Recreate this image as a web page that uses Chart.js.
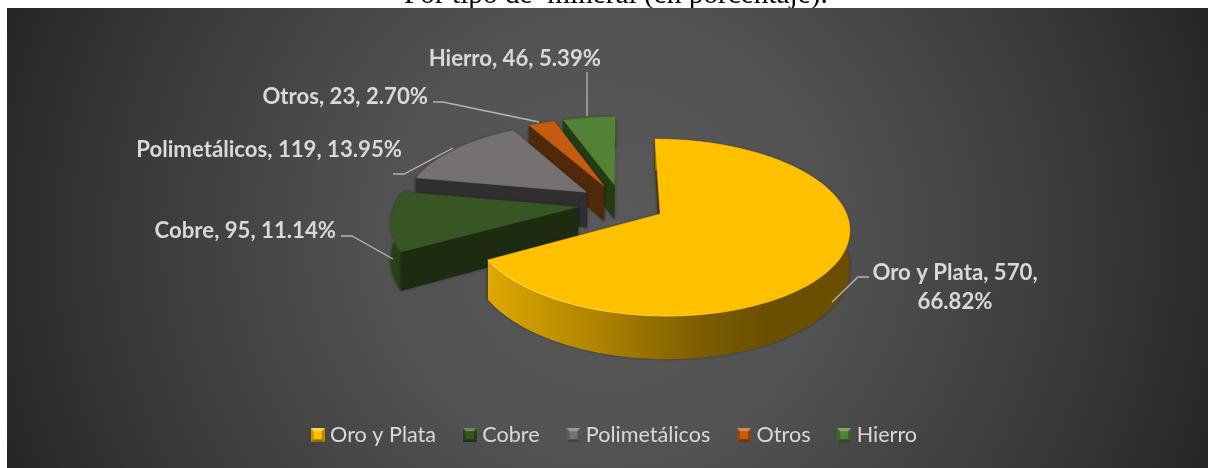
<!DOCTYPE html>
<html><head><meta charset="utf-8">
<style>html,body{margin:0;padding:0;background:#fff;overflow:hidden}canvas{display:block}</style>
<script src="https://cdn.jsdelivr.net/npm/chart.js@4"></script>
</head><body>
<canvas id="c" width="1208" height="468"></canvas>
<script>
const categories = ["Oro y Plata", "Cobre", "Polimetálicos", "Otros", "Hierro"];
const values = [570, 95, 119, 23, 46];
const percents = ["66.82%", "11.14%", "13.95%", "2.70%", "5.39%"];
const topColors = ["#FFC000", "#375623", "#767171", "#C55A11", "#548235"];
const faceColors = ["#4a3800", "#1d2b11", "#312e30", "#50290a", "#233a12"];
const wallColors = ["#8c6a00", "#2a4019", "#3a3738", "#5a300c", "#2b4716"];
const titleText = "Por tipo de  mineral (en porcentaje).";

const PANEL = {x:7, y:8, w:1201, h:460};
const VIEW = {perspective:0.15, squash:0.455, depth:36, shiftX:5};
const LABELS = [
  {lines:[categories[0]+", "+values[0]+",", percents[0]], align:"center", x:955, y:[273,302], leader:[[832,302],[858,277],[869,277]]},
  {lines:[categories[1]+", "+values[1]+", "+percents[1]], align:"right", x:336, y:[231], leader:[[341,236],[352,236],[393,259]]},
  {lines:[categories[2]+", "+values[2]+", "+percents[2]], align:"right", x:402, y:[150], leader:[[393,174],[404,174],[453,148]]},
  {lines:[categories[3]+", "+values[3]+", "+percents[3]], align:"right", x:428, y:[97], leader:[[433,102],[443,102],[539,122]]},
  {lines:[categories[4]+", "+values[4]+", "+percents[4]], align:"right", x:601, y:[59], leader:[[587,72],[587,116]]}
];

function polygon(ctx, pts){
  ctx.beginPath();
  pts.forEach((p,i)=> i ? ctx.lineTo(p[0],p[1]) : ctx.moveTo(p[0],p[1]));
  ctx.closePath();
}

class Pie3DController extends Chart.PieController {
  static id = "pie3d";
  draw(){
    const ctx = this.chart.ctx;
    const arcs = this._cachedMeta.data.map((arc,i)=>({arc,i}));
    const mid = a => (a.arc.startAngle + a.arc.endAngle)/2;
    arcs.sort((a,b)=> Math.sin(mid(a)) - Math.sin(mid(b)));
    arcs.forEach(a=> this.drawSlice(ctx, a.arc, a.i));
  }
  drawSlice(ctx, arc, i){
    const R = arc.outerRadius, cx = arc.x + VIEW.shiftX, cy = arc.y;
    const m = (arc.startAngle + arc.endAngle)/2;
    const off = arc.options.offset / R;
    const ou = off*Math.cos(m), ov = off*Math.sin(m);
    const proj = (u,v,z)=>{
      const s = 1/(1 - VIEW.perspective*v);
      return [cx + R*u*s, cy + R*VIEW.squash*v*s + VIEW.depth*z*s];
    };
    const at = (a,z)=> proj(ou+Math.cos(a), ov+Math.sin(a), z);
    const apex = z => proj(ou, ov, z);
    const n = Math.max(8, Math.ceil((arc.endAngle-arc.startAngle)/0.02));
    const rim = z => { const p=[]; for(let k=0;k<=n;k++) p.push(at(arc.startAngle+(arc.endAngle-arc.startAngle)*k/n, z)); return p; };
    const topEdge = rim(0), botEdge = rim(1);

    const face = a => { polygon(ctx,[apex(0),at(a,0),at(a,1),apex(1)]); ctx.fill(); };
    const startFront = -Math.cos(arc.startAngle) > 0.01;
    const endFront = Math.cos(arc.endAngle) > 0.01;

    ctx.save();
    ctx.shadowColor = "rgba(0,0,0,0.42)";
    ctx.shadowBlur = 3;

    // cut faces turned away from the viewer
    ctx.fillStyle = faceColors[i];
    if(!startFront) face(arc.startAngle);
    if(!endFront) face(arc.endAngle);

    // outer wall
    if(i===0){
      const xs = topEdge.map(p=>p[0]);
      const x0 = Math.min(...xs), x1 = Math.max(...xs);
      const g = ctx.createLinearGradient(x0,0,x1,0);
      g.addColorStop(0,"#DEA800"); g.addColorStop(0.3,"#AF8400"); g.addColorStop(0.6,"#7a5c00"); g.addColorStop(0.78,"#6a4f00"); g.addColorStop(1,"#6a4f00");
      ctx.fillStyle = g;
    } else ctx.fillStyle = wallColors[i];
    polygon(ctx, topEdge.concat(botEdge.slice().reverse())); ctx.fill();

    // cut faces turned toward the viewer
    ctx.fillStyle = faceColors[i];
    if(startFront) face(arc.startAngle);
    if(endFront) face(arc.endAngle);
    ctx.restore();

    // top face
    ctx.fillStyle = arc.options.backgroundColor;
    ctx.strokeStyle = arc.options.backgroundColor;
    ctx.lineWidth = 0.6;
    polygon(ctx,[apex(0)].concat(topEdge)); ctx.fill(); ctx.stroke();

    if(i===0){
      // bevel highlight on the front edge
      const hl = topEdge.filter(p=>p[1]>apex(0)[1]);
      const xs = hl.map(p=>p[0]);
      const g = ctx.createLinearGradient(Math.min(...xs),0,Math.max(...xs),0);
      g.addColorStop(0,"rgba(255,226,120,0.9)"); g.addColorStop(0.55,"rgba(255,226,120,0.5)"); g.addColorStop(0.75,"rgba(255,226,120,0)");
      ctx.strokeStyle = g; ctx.lineWidth = 1;
      ctx.beginPath(); hl.forEach((p,k)=> k?ctx.lineTo(p[0],p[1]):ctx.moveTo(p[0],p[1])); ctx.stroke();
    }
  }
}
Chart.register(Pie3DController);

function legendMarker(color){
  const s = 14, c = document.createElement("canvas");
  c.width = s; c.height = s;
  const x = c.getContext("2d");
  x.fillStyle = color; x.fillRect(0,0,s,s);
  const b = 3;
  const tri = (pts,fill)=>{ x.fillStyle=fill; polygon(x,pts); x.fill(); };
  tri([[0,0],[s,0],[s-b,b],[b,b]],"rgba(255,255,255,0.28)");
  tri([[0,0],[b,b],[b,s-b],[0,s]],"rgba(0,0,0,0.22)");
  tri([[s,0],[s-b,b],[s-b,s-b],[s,s]],"rgba(0,0,0,0.28)");
  tri([[0,s],[b,s-b],[s-b,s-b],[s,s]],"rgba(0,0,0,0.42)");
  return c;
}

const backdrop = {
  id:"backdrop",
  beforeDraw(chart){
    const ctx = chart.ctx;
    ctx.save();
    ctx.fillStyle = "#000";
    ctx.font = "29.3px 'Liberation Serif'";
    ctx.textAlign = "left"; ctx.textBaseline = "alphabetic";
    ctx.fillText(titleText, 404, 3);
    const g = ctx.createRadialGradient(607,238,0,607,238,640);
    g.addColorStop(0,"#5a5a5a"); g.addColorStop(0.35,"#525252"); g.addColorStop(0.75,"#393939"); g.addColorStop(1,"#262626");
    ctx.fillStyle = g;
    ctx.fillRect(PANEL.x,PANEL.y,PANEL.w,PANEL.h);
    ctx.restore();
  }
};

const dataLabels = {
  id:"dataLabels",
  afterDatasetsDraw(chart){
    const ctx = chart.ctx;
    ctx.save();
    ctx.strokeStyle = "#b5b5b5"; ctx.lineWidth = 1.3;
    ctx.fillStyle = "#d9d9d9";
    ctx.font = "bold 22.2px Lato";
    ctx.textBaseline = "middle";
    LABELS.forEach(l=>{
      ctx.beginPath();
      l.leader.forEach((p,k)=> k?ctx.lineTo(p[0],p[1]):ctx.moveTo(p[0],p[1]));
      ctx.stroke();
      ctx.textAlign = l.align;
      l.lines.forEach((t,k)=> ctx.fillText(t, l.x, l.y[k]));
    });
    ctx.restore();
  }
};

new Chart(document.getElementById("c"), {
  type:"pie3d",
  plugins:[backdrop, dataLabels],
  data:{
    labels:categories,
    datasets:[{data:values, backgroundColor:topColors, offset:44, hoverOffset:0, borderWidth:0}]
  },
  options:{
    responsive:false,
    animation:false,
    events:[],
    radius:183,
    layout:{padding:{top:15,bottom:12,left:25,right:0}},
    plugins:{
      tooltip:{enabled:false},
      title:{display:false},
      legend:{
        display:true, position:"bottom",
        labels:{
          usePointStyle:true, pointStyleWidth:3.4, padding:32,
          color:"#d9d9d9", font:{family:"Lato", size:21.6},
          generateLabels:()=> categories.map((t,i)=>({
            text:t, pointStyle:legendMarker(topColors[i]), fontColor:"#d9d9d9",
            fillStyle:topColors[i], strokeStyle:topColors[i], lineWidth:0, hidden:false, index:i
          }))
        }
      }
    }
  }
});
</script>
</body></html>
